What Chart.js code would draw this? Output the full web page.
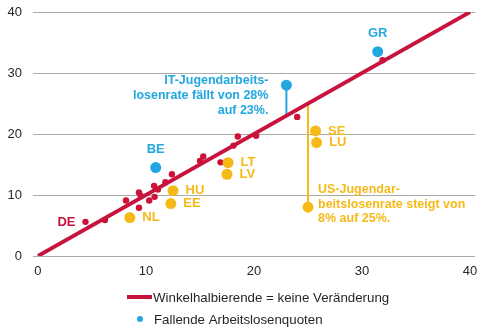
<!DOCTYPE html>
<html lang="de">
<head>
<meta charset="utf-8">
<script src="https://cdn.jsdelivr.net/npm/chart.js@4.4.1/dist/chart.umd.min.js"></script>
<style>
    html, body { margin: 0; padding: 0; background: #fff; }
    #wrap { width: 500px; height: 330px; position: relative; }
</style>
</head>
<body>
<div id="wrap"><canvas id="quotenChart" width="500" height="330"></canvas></div>
<script>
// Jugendarbeitslosenquoten in %
const achsenTicks = [0, 10, 20, 30, 40];

// kaum verändert (rot)
const rotX    = [4.4, 6.2, 8.15, 9.35, 9.35, 9.5, 10.3, 10.8, 10.75, 11.1, 11.8, 12.4, 15.0, 15.3, 16.9, 18.1, 18.5, 20.2, 24.0, 31.9];
const rotY    = [5.6, 5.9, 9.1, 7.9, 10.4, 9.9, 9.1, 9.7, 11.5, 10.9, 12.1, 13.4, 15.6, 16.3, 15.35, 18.1, 19.6, 19.7, 22.8, 32.1];
const rotTags = ['DE', '', '', '', '', '', '', '', '', '', '', '', '', '', '', '', '', '', '', ''];

// fallende Quoten (blau)
const blauX    = [10.9, 23, 31.45];
const blauY    = [14.5, 28, 33.5];
const blauTags = ['BE', '', 'GR'];

// steigende Quoten (gelb)
const gelbX    = [8.5, 12.3, 12.5, 17.6, 17.5, 25.7, 25.8, 25];
const gelbY    = [6.3, 8.6, 10.7, 15.3, 13.4, 20.5, 18.6, 8];
const gelbTags = ['NL', 'EE', 'HU', 'LT', 'LV', 'SE', 'LU', ''];

const ROT = '#c8133f';
const BLAU = '#22a7e0';
const GELB = '#f5b918';
const TEXT = '#262626';
const FONT = '"Liberation Sans", Arial, sans-serif';

const punkte = (xs, ys) => xs.map((x, i) => ({ x: x, y: ys[i] }));

// Beschriftungen an den Punkten: Kürzel und zwei Textblöcke
const beschriftung = {
    id: 'beschriftung',
    afterDatasetsDraw(chart) {
        const ctx = chart.ctx;
        ctx.save();
        chart.data.datasets.forEach((ds, i) => {
            if (!ds.tags) return;
            const meta = chart.getDatasetMeta(i);
            ctx.fillStyle = ds.tagColor;
            ctx.font = 'bold 13px ' + FONT;
            ctx.textAlign = ds.tagAlign;
            ctx.textBaseline = 'middle';
            meta.data.forEach((pt, j) => {
                if (ds.tags[j]) ctx.fillText(ds.tags[j], pt.x + ds.tagDx, pt.y + ds.tagDy);
            });
            if (ds.notiz) {
                const n = ds.notiz;
                const pt = meta.data[n.index];
                ctx.font = 'bold 12.5px ' + FONT;
                ctx.textAlign = n.align;
                n.lines.forEach((t, k) => ctx.fillText(t, pt.x + n.dx, pt.y + n.dy + k * n.lh));
            }
        });
        ctx.restore();
    }
};

// Legende unter dem Diagramm, linksbündig in zwei Zeilen
const legende = {
    id: 'legende',
    afterDraw(chart) {
        const ctx = chart.ctx;
        ctx.save();
        ctx.strokeStyle = ROT;
        ctx.lineWidth = 4;
        ctx.beginPath();
        ctx.moveTo(127, 297);
        ctx.lineTo(152, 297);
        ctx.stroke();
        ctx.fillStyle = BLAU;
        ctx.beginPath();
        ctx.arc(140, 319, 3, 0, Math.PI * 2);
        ctx.fill();
        ctx.fillStyle = TEXT;
        ctx.font = '13.3px ' + FONT;
        ctx.textAlign = 'left';
        ctx.textBaseline = 'middle';
        ctx.fillText('Winkelhalbierende = keine Veränderung', 153, 298);
        ctx.fillText('Fallende Arbeitslosenquoten', 154, 320.5);
        ctx.restore();
    }
};

const ctx = document.getElementById('quotenChart').getContext('2d');
new Chart(ctx, {
    type: 'scatter',
    data: {
        datasets: [
            {
                // IT: Rückgang bis zur Winkelhalbierenden
                data: punkte([blauX[1], blauX[1]], [blauY[1], blauX[1]]),
                showLine: true, borderColor: BLAU, borderWidth: 2, pointRadius: 0, order: 5
            },
            {
                // US: Anstieg bis zur Winkelhalbierenden
                data: punkte([gelbX[7], gelbX[7]], [gelbY[7], gelbX[7]]),
                showLine: true, borderColor: GELB, borderWidth: 2, pointRadius: 0, order: 5
            },
            {
                data: punkte(rotX, rotY),
                backgroundColor: '#cc1236', borderWidth: 0, pointRadius: 3.2, order: 4,
                tags: rotTags, tagColor: ROT, tagAlign: 'right', tagDx: -10, tagDy: 0.5
            },
            {
                // Winkelhalbierende
                data: punkte([0, 40], [0, 40]),
                showLine: true, borderColor: ROT, borderWidth: 3.8, pointRadius: 0, order: 3
            },
            {
                data: punkte(blauX, blauY),
                backgroundColor: BLAU, borderWidth: 0, pointRadius: 5.5, order: 1,
                tags: blauTags, tagColor: BLAU, tagAlign: 'center', tagDx: 0, tagDy: -18.5,
                notiz: {
                    index: 1, align: 'right', dx: -18, dy: -5, lh: 15.3,
                    lines: ['IT-Jugendarbeits-', 'losenrate fällt von 28%', 'auf 23%.']
                }
            },
            {
                data: punkte(gelbX, gelbY),
                backgroundColor: GELB, borderWidth: 0, pointRadius: 5.5, order: 1,
                tags: gelbTags, tagColor: GELB, tagAlign: 'left', tagDx: 12.5, tagDy: 0,
                notiz: {
                    index: 7, align: 'left', dx: 10, dy: -17.3, lh: 14.5,
                    lines: ['US-Jugendar-', 'beitslosenrate steigt von', '8% auf 25%.']
                }
            }
        ]
    },
    options: {
        responsive: false,
        animation: false,
        devicePixelRatio: 1,
        layout: { padding: { top: 12, right: 25, left: 0, bottom: 0 } },
        plugins: {
            legend: { display: false },
            tooltip: { enabled: false }
        },
        scales: {
            x: {
                type: 'linear',
                min: -0.46,
                max: 40.46,
                afterBuildTicks: (axis) => { axis.ticks = achsenTicks.map(v => ({ value: v })); },
                afterFit: (scale) => {
                    scale.height = 74;
                    scale.paddingLeft = 0;
                    scale.paddingRight = 0;
                },
                grid: { display: false, drawTicks: false },
                border: { display: false },
                ticks: { color: TEXT, padding: 8, font: { family: FONT, size: 13 } }
            },
            y: {
                type: 'linear',
                min: 0,
                max: 40,
                afterBuildTicks: (axis) => { axis.ticks = achsenTicks.map(v => ({ value: v })); },
                afterFit: (scale) => {
                    scale.width = 33;
                    scale.paddingTop = 0;
                    scale.paddingBottom = 0;
                },
                grid: { color: '#ababab', lineWidth: 1, drawTicks: false },
                border: { display: false },
                ticks: { color: TEXT, padding: 11, font: { family: FONT, size: 13 } }
            }
        }
    },
    plugins: [beschriftung, legende]
});
</script>
</body>
</html>
